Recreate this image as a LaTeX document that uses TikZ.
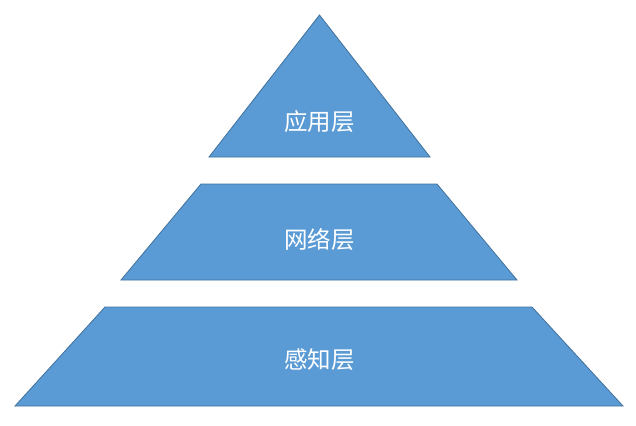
\documentclass[tikz,border=0pt]{standalone}
\usepackage{fontspec}
\newfontfamily\cjk{Noto Sans CJK SC}
\definecolor{fillblue}{HTML}{5B9BD5}
\definecolor{edgeblue}{HTML}{41719C}
\begin{document}
\begin{tikzpicture}[x=1pt,y=-1pt,
  layer/.style={fill=fillblue,draw=edgeblue,line width=0.8pt,line join=miter},
  lbl/.style={text=white,font=\cjk\fontsize{23.5}{28}\selectfont}]
\useasboundingbox (0,0) rectangle (636,425);
\draw[layer] (319.5,15) -- (430,157) -- (209,157) -- cycle;
\draw[layer] (201,184) -- (437,184) -- (517,280) -- (121,280) -- cycle;
\draw[layer] (105,307) -- (532,307) -- (623,406) -- (15,406) -- cycle;
\node[lbl] (app) at (319.5,122) {应用层};
\node[lbl] (net) at (319.5,240) {网络层};
\node[lbl] (sen) at (319.5,360) {感知层};
\end{tikzpicture}
\end{document}
